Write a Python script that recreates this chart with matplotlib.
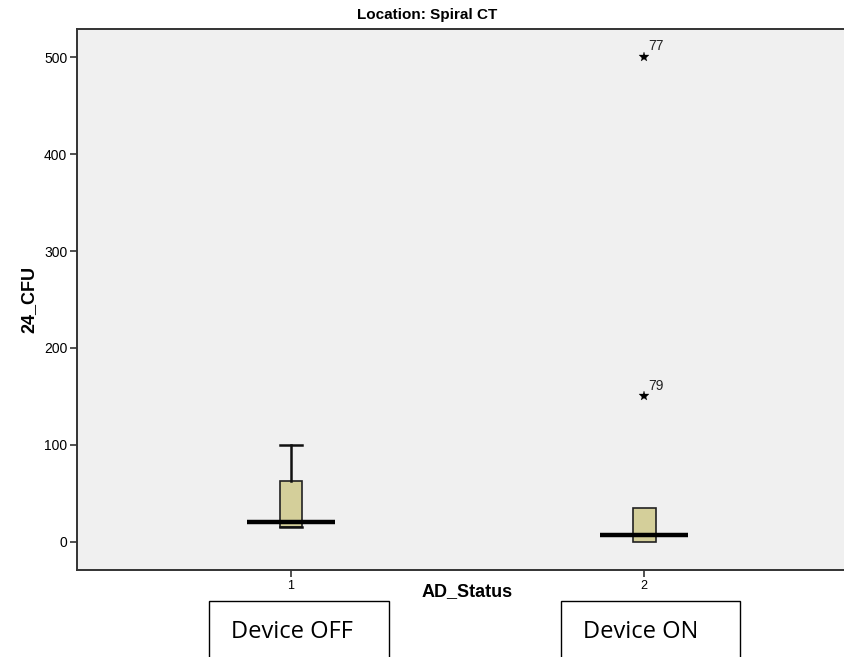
import matplotlib
matplotlib.use('Agg')
import matplotlib.pyplot as plt
from matplotlib.patches import Rectangle

# data
groups = [1, 2]
q1 = [15, 0]
medians = [20, 7]
q3 = [63, 35]
whisker_lo = [15, 0]
whisker_hi = [100, 35]
outlier_vals = [[], [500, 150]]
outlier_ids = [[], ['77', '79']]
yticks = [0, 100, 200, 300, 400, 500]
box_names = ['Device OFF', 'Device ON']

plt.rcParams['font.family'] = ['Liberation Sans', 'DejaVu Sans']

fig = plt.figure(figsize=(8.45, 6.57), dpi=100)
ax = fig.add_axes([77 / 845, 1 - 570 / 657, 1 - 77 / 845, (570 - 29) / 657])
ax.set_facecolor('#f0f0f0')

stats = []
for i in range(len(groups)):
    stats.append({'med': medians[i], 'q1': q1[i], 'q3': q3[i],
                  'whislo': whisker_lo[i], 'whishi': whisker_hi[i], 'fliers': []})

# no cap where the whisker has zero length
caps = [0.065 if whisker_hi[i] > q3[i] else 0 for i in range(len(groups))]

ax.bxp(stats, positions=groups, widths=0.065, patch_artist=True, showfliers=False,
       boxprops=dict(facecolor='#d4cf9a', edgecolor='#222222', linewidth=1.2),
       whiskerprops=dict(color='#111111', linewidth=1.8),
       capprops=dict(color='#111111', linewidth=1.8),
       medianprops=dict(linewidth=0), capwidths=caps)

# SPSS draws the median as a wide heavy bar
ax.hlines(medians, [g - 0.125 for g in groups], [g + 0.125 for g in groups],
          color='black', linewidth=3.2, zorder=5)

for g, vals, ids in zip(groups, outlier_vals, outlier_ids):
    for v, lab in zip(vals, ids):
        ax.plot(g, v, marker='*', color='black', markersize=7.5, markeredgewidth=0.2,
                linestyle='none')
        ax.annotate(lab, (g, v), xytext=(3, 5), textcoords='offset points',
                    fontsize=10, color='#222222')

ax.set_xlim(0.394, 2.569)
ax.set_ylim(-29, 529)
ax.set_xticks(groups)
ax.set_xticklabels([str(g) for g in groups], fontsize=9)
ax.set_yticks(yticks)
ax.set_yticklabels([str(t) for t in yticks], fontsize=10)
ax.tick_params(axis='both', direction='out', length=5, width=1.2, color='#333333',
               pad=2)

for s in ['left', 'bottom', 'top']:
    ax.spines[s].set_color('#333333')
    ax.spines[s].set_linewidth(1.4)
ax.spines['right'].set_visible(False)

ax.set_ylabel('24_CFU', fontsize=13, fontweight='bold', labelpad=5)
fig.text(467 / 845, 1 - 592 / 657, 'AD_Status', fontsize=13, fontweight='bold',
         ha='center', va='center')
fig.text(427 / 845, 1 - 15 / 657, 'Location: Spiral CT', fontsize=11, fontweight='bold',
         ha='center', va='center')

# the annotation boxes under the axis
for x0, x1, name in [(209, 389, box_names[0]), (561, 740, box_names[1])]:
    fig.patches.append(Rectangle((x0 / 845, -0.05), (x1 - x0) / 845, 1 - 601 / 657 + 0.05,
                                 transform=fig.transFigure, fill=False,
                                 edgecolor='black', linewidth=1.0))
    fig.text((x0 + 22) / 845, 1 - 632 / 657, name, fontsize=17, ha='left', va='center',
             family=['Open Sans', 'DejaVu Sans'])

fig.savefig('out.png', dpi=100)
